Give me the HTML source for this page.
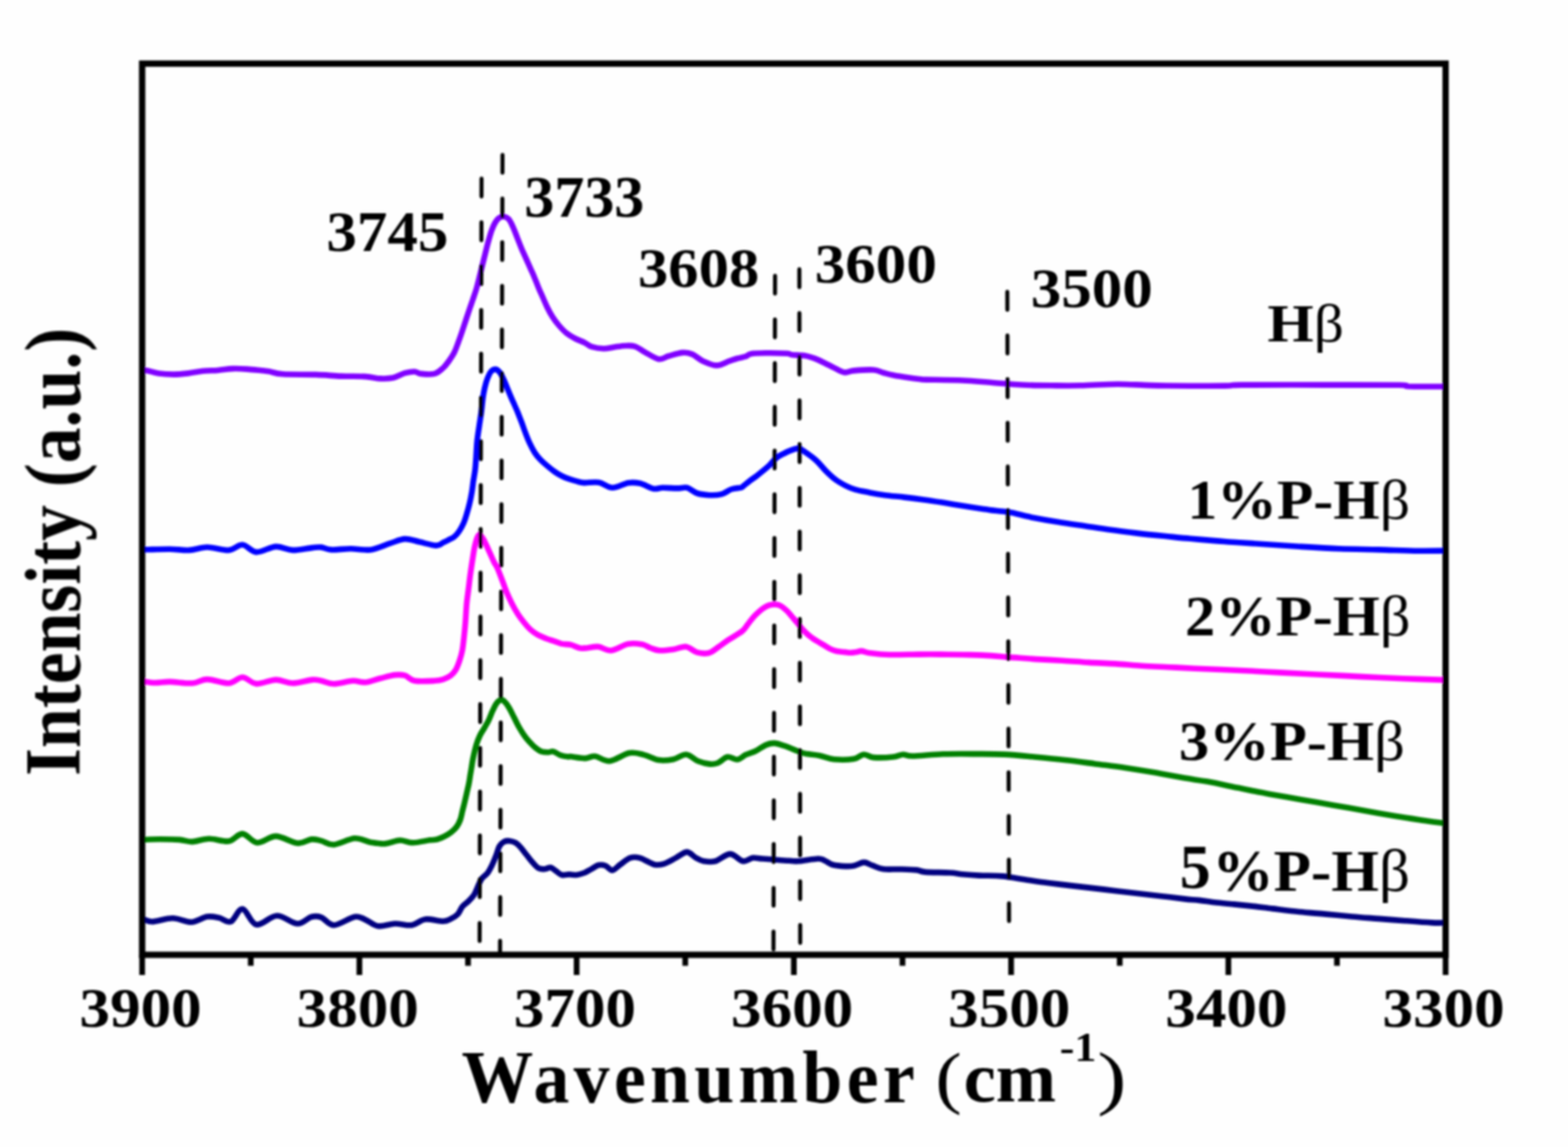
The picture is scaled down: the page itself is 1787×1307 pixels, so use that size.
<!DOCTYPE html>
<html><head><meta charset="utf-8"><title>IR spectra</title>
<style>html,body{margin:0;padding:0;background:#fff;overflow:hidden}svg{display:block}</style></head>
<body><svg width="1787" height="1307" viewBox="0 0 1787 1307">
<defs><filter id="soft" x="-2%" y="-2%" width="104%" height="104%"><feGaussianBlur stdDeviation="0.85"/></filter></defs>
<rect width="1787" height="1307" fill="#fefefe"/>
<g filter="url(#soft)">
<g id="curves" fill="none" stroke-linejoin="round" stroke-linecap="round"><path d="M162.5,422.2 C163.3,422.2 164.5,421.6 167.6,422.2 C170.7,422.8 176.0,424.9 181.0,425.6 C186.0,426.3 192.2,426.6 197.8,426.6 C203.4,426.6 209.0,426.0 214.6,425.4 C220.2,424.8 225.8,423.4 231.4,422.8 C237.0,422.2 242.5,422.4 248.1,422.0 C253.7,421.6 259.3,420.3 264.9,420.1 C270.5,419.9 276.1,420.2 281.7,420.6 C287.3,421.0 294.3,421.8 298.5,422.2 C302.7,422.6 302.9,422.6 306.9,423.3 C310.9,424.0 313.4,425.7 322.3,426.3 C331.2,426.9 348.9,426.5 360.0,426.9 C371.1,427.3 379.2,428.2 388.6,428.6 C398.0,429.0 409.2,428.6 416.6,429.1 C424.1,429.6 428.1,431.1 433.3,431.4 C438.5,431.6 443.2,431.6 447.9,430.6 C452.6,429.6 457.2,426.4 461.3,425.2 C465.4,424.0 469.4,423.4 472.5,423.5 C475.6,423.6 476.2,425.5 480.0,425.9 C483.8,426.3 490.9,427.0 495.1,425.9 C499.3,424.8 502.4,421.6 505.2,419.1 C508.0,416.6 509.9,413.6 512.0,410.7 C514.1,407.8 516.1,404.9 517.8,401.5 C519.5,398.1 520.7,394.4 522.1,390.6 C523.5,386.8 524.8,383.3 526.3,378.8 C527.8,374.3 529.8,368.2 531.3,363.6 C532.8,359.0 534.2,354.8 535.5,351.0 C536.8,347.2 537.7,344.9 539.0,341.0 C540.3,337.1 542.0,332.6 543.4,327.5 C544.8,322.4 546.2,316.3 547.6,310.7 C549.0,305.1 550.4,299.5 551.8,293.9 C553.2,288.3 554.6,282.3 556.0,277.1 C557.4,271.9 558.8,266.7 560.2,262.8 C561.6,258.9 563.0,255.9 564.4,253.5 C565.8,251.1 567.0,249.6 568.6,248.5 C570.2,247.4 571.9,246.6 573.7,246.8 C575.5,247.0 577.8,247.7 579.6,249.6 C581.4,251.5 582.9,254.9 584.5,258.4 C586.1,261.9 587.8,266.5 589.4,270.6 C591.0,274.7 592.7,279.0 594.3,282.9 C595.9,286.8 597.6,290.2 599.2,293.9 C600.8,297.6 602.5,301.2 604.1,304.9 C605.7,308.6 607.4,312.0 609.0,315.9 C610.6,319.8 612.3,324.3 613.9,328.2 C615.5,332.1 617.2,335.5 618.8,339.2 C620.4,342.9 621.9,346.5 623.7,350.2 C625.5,353.9 627.6,357.7 629.8,361.2 C632.0,364.7 634.5,367.9 637.1,371.0 C639.8,374.1 642.6,377.2 645.7,379.6 C648.8,382.1 652.0,383.9 655.5,385.7 C659.0,387.5 663.3,389.0 666.5,390.6 C669.7,392.2 670.9,394.1 674.5,395.2 C678.1,396.3 683.7,397.2 688.0,397.3 C692.3,397.4 696.3,396.1 700.4,395.5 C704.5,394.9 708.8,394.1 712.7,394.0 C716.6,393.9 720.2,393.6 723.9,394.8 C727.6,396.0 730.6,398.9 735.1,401.3 C739.6,403.7 746.2,408.4 750.7,409.2 C755.2,409.9 757.4,407.0 761.9,405.8 C766.4,404.6 773.1,402.3 777.6,401.9 C782.1,401.5 784.9,402.0 788.8,403.6 C792.7,405.2 796.4,409.3 801.1,411.4 C805.8,413.5 811.8,416.4 816.8,416.4 C821.8,416.4 827.4,412.7 831.3,411.4 C835.2,410.1 836.9,409.4 840.0,408.5 C843.1,407.6 847.4,407.1 850.0,406.2 C852.6,405.3 851.9,403.8 855.6,403.2 C859.3,402.6 865.5,402.4 872.4,402.3 C879.3,402.2 892.0,402.5 897.0,402.8 C902.0,403.1 899.2,403.9 902.6,404.3 C906.0,404.7 912.9,404.6 917.2,405.3 C921.5,406.0 924.6,407.0 928.3,408.4 C932.0,409.8 935.8,411.7 939.5,413.5 C943.2,415.3 947.0,417.3 950.7,419.1 C954.4,420.9 958.2,423.8 961.9,424.3 C965.6,424.9 967.5,422.9 973.1,422.4 C978.7,421.9 989.9,421.1 995.5,421.5 C1001.1,421.9 1003.0,423.7 1006.7,424.7 C1010.4,425.7 1013.2,426.6 1017.9,427.5 C1022.6,428.4 1029.4,429.5 1034.7,430.3 C1040.0,431.1 1046.6,431.9 1050.0,432.3 C1053.4,432.7 1047.4,432.4 1055.2,432.6 C1063.0,432.8 1084.5,432.9 1097.1,433.5 C1109.7,434.1 1119.5,435.2 1130.7,436.0 C1141.9,436.8 1153.1,437.9 1164.3,438.5 C1175.5,439.1 1186.7,439.2 1197.9,439.3 C1209.1,439.4 1218.8,439.6 1231.4,439.3 C1244.0,439.0 1261.1,437.8 1273.4,437.7 C1285.7,437.6 1295.6,438.6 1305.0,438.9 C1314.4,439.2 1314.8,439.4 1330.0,439.5 C1345.2,439.6 1381.8,439.8 1396.0,439.6 C1410.2,439.5 1396.0,438.8 1415.0,438.6 C1434.0,438.4 1480.0,438.6 1510.0,438.6 C1540.0,438.6 1579.2,438.5 1595.0,438.8 C1610.8,439.1 1596.3,439.9 1605.0,440.2 C1613.7,440.5 1640.0,440.4 1647.0,440.5" stroke="#8000ff" stroke-width="6.6"/><path d="M162.5,626.3 C163.2,626.3 161.5,626.4 166.7,626.3 C171.9,626.2 185.4,625.6 193.6,625.7 C201.8,625.8 208.9,627.3 216.0,626.9 C223.1,626.5 228.7,623.5 236.1,623.5 C243.5,623.5 254.0,627.4 260.7,626.9 C267.4,626.4 271.2,620.3 276.4,620.7 C281.6,621.1 285.8,628.7 292.1,629.1 C298.4,629.5 307.5,623.3 314.4,622.9 C321.3,622.5 326.6,626.7 333.5,626.9 C340.4,627.1 350.4,624.6 355.9,624.1 C361.3,623.6 362.6,623.2 366.2,623.6 C369.8,624.0 371.8,626.1 377.4,626.4 C383.0,626.7 392.3,625.3 399.8,625.3 C407.3,625.3 414.8,627.4 422.2,626.4 C429.6,625.4 438.0,621.2 444.5,619.2 C451.0,617.2 455.7,614.4 461.3,614.1 C466.9,613.8 472.1,616.2 478.1,617.5 C484.1,618.8 492.6,621.5 497.1,621.6 C501.6,621.7 502.7,619.3 505.0,618.3 C507.3,617.2 508.9,616.4 511.0,615.3 C513.1,614.2 515.5,613.5 517.6,611.8 C519.7,610.1 521.7,607.7 523.5,605.0 C525.3,602.3 527.1,599.0 528.5,595.8 C529.9,592.6 530.8,589.5 531.9,585.7 C533.0,581.9 534.3,577.3 535.3,573.1 C536.3,568.9 537.1,564.7 537.8,560.5 C538.5,556.3 538.9,552.0 539.5,547.8 C540.1,543.6 541.0,539.7 541.5,535.2 C542.0,530.7 542.2,526.5 542.6,521.0 C543.0,515.5 543.2,508.4 543.8,502.5 C544.4,496.6 545.3,491.3 546.1,485.7 C546.9,480.1 547.9,474.2 548.6,468.9 C549.3,463.6 549.7,458.2 550.3,453.7 C550.9,449.2 551.6,445.6 552.4,442.0 C553.2,438.4 554.1,435.0 555.3,431.9 C556.5,428.8 558.0,425.3 559.5,423.5 C561.0,421.7 562.9,420.8 564.6,420.9 C566.3,421.0 568.1,422.5 569.6,424.3 C571.1,426.1 572.4,428.9 573.8,431.9 C575.2,434.8 576.6,438.6 578.0,442.0 C579.4,445.4 580.8,448.9 582.2,452.1 C583.6,455.4 585.0,458.4 586.4,461.5 C587.8,464.6 589.0,467.2 590.3,470.5 C591.6,473.8 593.0,477.4 594.4,481.0 C595.8,484.6 596.9,488.2 598.4,492.1 C599.9,496.1 601.7,500.8 603.5,504.7 C605.3,508.6 607.2,512.4 609.3,515.6 C611.4,518.8 613.7,521.5 616.1,524.0 C618.5,526.5 620.9,528.5 623.6,530.7 C626.3,533.0 629.3,535.5 632.1,537.5 C634.9,539.5 637.7,541.1 640.5,542.5 C643.3,543.9 646.1,544.9 648.9,545.9 C651.7,546.9 654.5,547.7 657.3,548.4 C660.1,549.1 661.5,549.9 665.7,550.1 C669.9,550.3 677.0,548.8 682.4,549.7 C687.8,550.7 692.4,555.7 698.0,555.8 C703.6,555.9 710.8,551.0 716.0,550.2 C721.2,549.4 724.5,549.7 729.4,550.8 C734.2,551.9 740.8,556.1 745.1,556.9 C749.4,557.7 750.6,555.9 755.1,555.8 C759.6,555.7 767.2,556.4 771.9,556.4 C776.6,556.4 779.4,554.9 783.1,555.8 C786.8,556.7 790.0,560.6 794.3,562.0 C798.6,563.4 804.2,564.0 808.9,564.2 C813.6,564.4 818.2,564.2 822.3,563.1 C826.4,562.0 829.8,558.8 833.5,557.5 C837.2,556.2 842.4,556.2 844.7,555.6 C847.0,555.0 845.7,555.0 847.4,553.7 C849.1,552.4 852.4,549.6 854.9,547.7 C857.4,545.8 859.8,544.2 862.3,542.3 C864.8,540.4 867.3,538.4 869.8,536.3 C872.3,534.2 874.7,532.2 877.2,529.8 C879.7,527.4 882.2,524.0 884.7,521.9 C887.2,519.8 889.7,518.7 892.2,517.4 C894.7,516.1 896.7,515.0 899.6,513.9 C902.5,512.8 906.9,510.9 909.6,510.9 C912.3,510.9 912.6,511.7 916.0,514.0 C919.4,516.3 925.8,520.7 930.0,524.5 C934.2,528.3 937.5,532.9 941.2,536.6 C944.9,540.3 948.7,543.9 952.4,546.7 C956.1,549.5 959.9,551.5 963.6,553.4 C967.3,555.3 970.1,556.6 974.8,557.9 C979.5,559.2 986.0,560.3 991.6,561.4 C997.2,562.5 1001.8,563.3 1008.3,564.2 C1014.8,565.1 1023.2,565.7 1030.7,566.6 C1038.2,567.5 1045.6,568.4 1053.1,569.4 C1060.6,570.4 1068.0,571.6 1075.5,572.8 C1083.0,574.0 1090.4,575.3 1097.9,576.5 C1105.4,577.7 1115.0,579.1 1120.3,579.9 C1125.6,580.7 1125.1,580.8 1130.0,581.4 C1134.9,582.0 1142.0,582.3 1149.6,583.6 C1157.1,584.9 1166.0,587.5 1175.3,589.4 C1184.6,591.2 1195.4,593.1 1205.5,594.7 C1215.6,596.4 1225.6,597.8 1235.7,599.3 C1245.8,600.8 1255.9,602.4 1266.0,603.8 C1276.1,605.2 1286.1,606.4 1296.2,607.6 C1306.3,608.8 1316.3,609.8 1326.4,610.8 C1336.5,611.8 1346.5,612.9 1356.6,613.8 C1366.7,614.7 1377.4,615.6 1386.8,616.4 C1396.2,617.1 1403.3,617.7 1412.7,618.3 C1422.1,618.9 1431.6,619.5 1442.9,620.2 C1454.2,620.9 1466.8,621.9 1480.6,622.7 C1494.4,623.6 1510.9,624.7 1526.0,625.3 C1541.1,625.9 1556.2,626.0 1571.3,626.4 C1586.4,626.8 1604.0,627.5 1616.6,627.7 C1629.2,627.9 1641.9,627.5 1647.0,627.5" stroke="#0000ff" stroke-width="6.6"/><path d="M162.5,776.3 C164.9,776.6 171.6,777.9 176.8,778.0 C182.0,778.1 186.5,776.8 193.6,776.9 C200.7,777.0 212.2,779.0 219.3,778.5 C226.4,778.0 229.2,774.1 236.1,774.1 C243.0,774.1 254.0,778.9 260.7,778.5 C267.4,778.1 271.2,771.7 276.4,771.8 C281.6,771.9 285.8,778.6 292.1,779.1 C298.4,779.6 307.5,774.7 314.4,774.6 C321.3,774.5 326.6,778.5 333.5,778.5 C340.4,778.5 350.4,775.1 355.9,774.6 C361.3,774.1 362.1,775.0 366.2,775.8 C370.3,776.6 374.7,779.2 380.7,779.2 C386.7,779.2 396.0,776.1 402.0,775.8 C408.0,775.5 411.4,778.0 416.6,777.5 C421.8,777.0 427.7,774.4 433.3,773.0 C438.9,771.6 445.4,769.6 450.1,769.1 C454.8,768.6 457.6,768.6 461.3,769.7 C465.0,770.8 466.9,774.8 472.5,775.8 C478.1,776.8 489.5,776.1 494.9,775.8 C500.3,775.5 502.0,775.1 505.1,774.1 C508.2,773.1 511.1,771.7 513.5,769.9 C515.9,768.1 517.7,766.0 519.4,763.2 C521.1,760.4 522.3,756.9 523.6,753.1 C524.9,749.3 526.2,744.7 527.0,740.5 C527.8,736.3 528.1,732.0 528.6,727.8 C529.1,723.6 529.5,719.2 529.9,715.2 C530.3,711.2 530.5,708.1 530.8,703.5 C531.1,698.9 531.4,693.0 531.9,687.5 C532.4,682.0 533.3,676.3 534.0,670.7 C534.7,665.1 535.3,659.5 536.1,653.9 C536.9,648.3 537.8,642.0 538.6,637.1 C539.4,632.2 539.9,628.2 540.7,624.4 C541.5,620.6 542.4,616.8 543.3,614.3 C544.2,611.8 545.0,609.4 546.2,609.3 C547.4,609.2 549.0,611.4 550.4,613.5 C551.8,615.6 553.2,618.9 554.6,621.9 C556.0,624.9 557.4,628.1 558.8,631.2 C560.2,634.3 561.6,637.7 563.0,640.4 C564.4,643.1 565.6,644.4 567.0,647.5 C568.4,650.6 569.7,654.4 571.5,659.0 C573.3,663.6 575.6,670.5 577.6,675.3 C579.6,680.1 581.4,683.8 583.5,687.9 C585.6,692.0 588.0,696.2 590.2,699.7 C592.5,703.2 594.6,706.0 597.0,709.0 C599.4,712.0 601.9,715.0 604.5,717.4 C607.1,719.8 609.9,721.6 612.9,723.3 C615.9,725.0 619.0,726.2 622.2,727.5 C625.4,728.8 629.3,729.8 632.3,730.8 C635.3,731.8 636.9,732.9 640.0,733.6 C643.1,734.3 647.5,734.0 651.2,734.9 C654.9,735.8 657.4,738.5 662.4,738.8 C667.4,739.1 675.8,736.5 681.4,736.9 C687.0,737.3 690.2,741.7 696.0,741.2 C701.8,740.7 710.1,734.9 716.1,733.8 C722.1,732.6 727.7,733.6 731.8,734.3 C735.9,735.0 737.4,737.0 740.7,738.1 C744.1,739.2 747.2,740.9 751.9,741.2 C756.6,741.5 763.7,740.4 768.7,739.7 C773.7,739.0 777.8,736.3 782.1,736.9 C786.4,737.5 790.1,742.2 794.4,743.4 C798.7,744.6 803.8,745.1 807.9,744.0 C812.0,742.9 815.4,739.4 819.1,736.9 C822.8,734.4 825.8,732.1 830.3,729.1 C834.8,726.1 842.3,722.0 845.9,719.1 C849.5,716.2 850.0,714.2 852.0,711.7 C854.0,709.2 856.1,706.1 858.1,703.8 C860.1,701.4 862.2,699.5 864.3,697.6 C866.3,695.8 868.4,694.0 870.4,692.7 C872.4,691.4 874.5,690.4 876.5,689.7 C878.5,689.1 880.6,688.8 882.6,688.8 C884.6,688.8 886.5,688.8 888.7,689.9 C891.0,691.0 893.9,693.4 896.1,695.4 C898.4,697.4 900.2,699.8 902.2,702.1 C904.2,704.5 906.4,707.0 908.4,709.5 C910.4,712.0 912.5,714.5 914.5,716.8 C916.5,719.0 918.6,721.2 920.6,723.0 C922.6,724.8 924.7,726.4 926.7,727.8 C928.7,729.2 930.8,730.3 932.8,731.5 C934.8,732.7 937.0,734.0 939.0,735.2 C941.0,736.4 943.1,737.9 945.1,738.9 C947.1,739.9 949.2,740.7 951.2,741.3 C953.2,741.9 955.3,742.2 957.3,742.5 C959.3,742.8 961.3,742.9 963.4,743.1 C965.5,743.3 967.5,743.8 969.6,743.8 C971.7,743.8 973.7,743.4 975.7,743.1 C977.7,742.8 979.0,741.7 981.8,741.9 C984.6,742.1 987.3,743.6 992.6,744.3 C997.9,745.0 1004.5,745.8 1013.6,746.0 C1022.7,746.2 1037.4,745.7 1047.2,745.6 C1057.0,745.5 1064.0,745.5 1072.4,745.6 C1080.8,745.7 1089.6,745.8 1097.5,746.0 C1105.4,746.2 1111.2,746.1 1120.0,746.6 C1128.8,747.1 1140.1,748.1 1150.2,748.9 C1160.3,749.6 1170.3,750.5 1180.4,751.1 C1190.5,751.7 1200.5,752.1 1210.6,752.7 C1220.7,753.3 1230.7,754.3 1240.8,754.9 C1250.9,755.5 1261.0,755.8 1271.1,756.4 C1281.2,757.0 1291.2,758.1 1301.3,758.7 C1311.4,759.3 1321.4,759.7 1331.5,760.2 C1341.6,760.7 1347.1,761.0 1361.7,761.7 C1376.3,762.4 1403.1,763.4 1419.2,764.2 C1435.3,765.0 1444.0,765.6 1458.4,766.4 C1472.8,767.1 1489.7,767.9 1505.4,768.7 C1521.1,769.5 1536.7,770.3 1552.4,771.1 C1568.1,771.9 1583.6,772.7 1599.4,773.3 C1615.2,773.9 1639.1,774.6 1647.0,774.9" stroke="#ff00ff" stroke-width="6.6"/><path d="M162.5,956.9 C165.8,956.8 175.3,956.3 182.4,956.3 C189.5,956.3 198.7,956.4 204.8,956.9 C211.0,957.4 213.7,959.3 219.3,959.1 C224.9,958.9 231.4,955.8 238.3,955.7 C245.2,955.6 254.3,959.4 260.7,958.5 C267.0,957.6 271.0,949.8 276.4,950.1 C281.8,950.4 286.9,959.7 293.2,960.2 C299.5,960.7 306.8,952.8 314.4,952.9 C322.0,953.0 332.3,960.2 339.1,960.8 C345.9,961.4 350.5,956.8 355.0,956.4 C359.5,956.0 361.9,957.1 366.2,958.1 C370.5,959.1 374.4,963.0 380.7,962.5 C387.0,962.0 397.3,955.8 404.2,955.3 C411.1,954.8 416.4,958.7 422.2,959.7 C428.0,960.7 433.3,961.8 438.9,961.4 C444.5,961.0 450.5,957.7 455.7,957.5 C460.9,957.3 464.6,960.3 470.3,960.3 C476.0,960.3 485.4,957.9 490.0,957.3 C494.6,956.7 495.3,957.2 498.0,956.5 C500.7,955.8 503.4,954.6 506.1,953.2 C508.8,951.9 511.7,950.3 514.1,948.4 C516.5,946.5 518.8,944.4 520.5,942.0 C522.2,939.6 523.5,937.0 524.6,934.0 C525.7,931.0 526.2,927.5 527.0,924.3 C527.8,921.1 528.6,918.1 529.4,914.7 C530.2,911.4 531.0,907.7 531.8,904.2 C532.6,900.7 533.5,897.1 534.2,893.8 C534.9,890.4 535.3,887.3 535.8,884.1 C536.3,880.9 536.9,877.7 537.4,874.5 C537.9,871.3 538.1,869.1 539.0,864.8 C539.9,860.5 541.5,853.4 542.8,848.9 C544.1,844.4 545.5,841.2 547.0,838.0 C548.5,834.8 550.3,832.6 552.0,829.6 C553.7,826.6 555.6,823.5 557.1,820.3 C558.6,817.1 559.8,813.4 561.3,810.2 C562.8,807.0 564.3,803.4 566.0,801.3 C567.7,799.1 569.8,797.4 571.5,797.3 C573.2,797.2 574.5,799.0 576.0,800.6 C577.5,802.2 579.0,804.5 580.6,807.2 C582.2,809.9 583.9,813.7 585.6,817.0 C587.3,820.3 588.8,823.8 590.7,827.1 C592.6,830.5 594.7,834.0 596.8,837.1 C598.9,840.2 601.2,843.0 603.5,845.5 C605.8,848.0 608.0,850.4 610.3,852.2 C612.5,854.0 614.6,855.5 617.0,856.4 C619.4,857.2 622.4,857.3 624.6,857.3 C626.9,857.3 628.1,855.8 630.5,856.4 C632.9,857.0 636.1,859.6 638.9,860.6 C641.7,861.6 645.4,862.1 647.3,862.3 C649.1,862.5 646.8,861.7 650.0,862.0 C653.2,862.3 662.1,864.1 666.8,864.1 C671.5,864.1 673.3,861.3 678.0,861.8 C682.7,862.3 688.3,867.8 694.8,867.2 C701.3,866.6 710.7,859.3 717.2,858.1 C723.7,856.9 728.3,858.8 733.9,860.1 C739.5,861.4 745.1,865.2 750.7,866.1 C756.3,867.0 762.3,866.2 767.5,865.2 C772.7,864.2 777.4,859.5 782.1,859.8 C786.8,860.1 791.0,865.4 795.5,867.2 C800.0,869.0 805.2,870.2 808.9,870.6 C812.6,871.0 814.5,870.8 817.9,869.5 C821.3,868.2 825.4,863.3 829.1,862.6 C832.8,861.9 836.8,865.9 840.3,865.5 C843.8,865.1 846.5,861.7 850.0,860.1 C853.5,858.5 857.5,857.6 861.2,855.8 C864.9,854.0 868.9,850.6 872.4,849.1 C875.9,847.6 878.8,846.7 882.5,846.9 C886.2,847.1 890.9,848.9 894.8,850.2 C898.7,851.5 902.3,853.3 906.0,854.7 C909.7,856.1 912.6,857.6 917.2,858.6 C921.9,859.6 928.3,859.8 933.9,860.9 C939.5,862.0 944.2,864.6 950.7,865.3 C957.2,865.9 967.5,865.7 973.1,864.8 C978.7,863.9 980.6,860.0 984.3,859.7 C988.0,859.4 989.9,862.6 995.5,863.1 C1001.1,863.6 1012.3,863.1 1017.9,862.5 C1023.5,861.9 1025.4,859.9 1029.1,859.7 C1032.8,859.5 1032.4,861.6 1040.0,861.5 C1047.6,861.4 1063.1,859.7 1074.7,859.3 C1086.3,858.9 1097.8,859.0 1109.4,859.1 C1121.0,859.2 1132.5,859.0 1144.1,859.6 C1155.7,860.2 1167.2,861.4 1178.8,862.5 C1190.4,863.6 1201.9,864.7 1213.5,866.0 C1225.1,867.3 1236.7,868.9 1248.2,870.4 C1259.8,871.9 1271.2,873.2 1282.8,874.9 C1294.3,876.6 1306.3,878.6 1317.5,880.6 C1328.7,882.6 1340.3,884.9 1350.0,886.6 C1359.7,888.3 1365.5,888.7 1375.8,890.6 C1386.1,892.5 1399.7,895.4 1411.6,897.8 C1423.5,900.2 1435.5,902.7 1447.4,904.9 C1459.4,907.1 1471.3,909.1 1483.3,911.2 C1495.2,913.3 1507.2,915.4 1519.1,917.5 C1531.0,919.6 1543.0,921.6 1554.9,923.7 C1566.8,925.8 1578.8,928.0 1590.7,930.0 C1602.6,932.0 1617.1,934.0 1626.5,935.4 C1635.9,936.8 1643.6,937.7 1647.0,938.2" stroke="#008000" stroke-width="6.6"/><path d="M162.5,1046.9 C164.3,1047.5 167.7,1050.3 173.4,1050.2 C179.1,1050.1 189.4,1046.2 196.9,1046.3 C204.4,1046.4 211.7,1051.1 218.2,1050.8 C224.7,1050.5 230.9,1045.4 236.1,1044.6 C241.3,1043.8 245.0,1044.8 249.5,1045.7 C254.0,1046.6 258.5,1051.9 263.0,1050.2 C267.5,1048.5 271.5,1035.1 276.4,1035.7 C281.2,1036.3 285.6,1052.3 292.1,1053.6 C298.6,1054.9 307.8,1043.7 315.6,1043.5 C323.4,1043.3 332.5,1052.3 339.1,1052.5 C345.7,1052.7 350.5,1045.9 355.0,1044.7 C359.5,1043.5 361.9,1043.7 366.2,1045.3 C370.5,1046.9 374.4,1054.3 380.7,1054.2 C387.0,1054.1 398.2,1045.7 404.2,1044.7 C410.2,1043.7 412.1,1046.3 416.6,1048.1 C421.1,1049.9 425.5,1054.6 431.1,1055.3 C436.7,1056.0 443.8,1052.7 450.1,1052.5 C456.5,1052.3 463.4,1055.0 469.2,1054.2 C475.0,1053.4 478.8,1048.2 484.8,1047.5 C490.8,1046.8 500.2,1049.8 505.0,1049.7 C509.8,1049.6 511.0,1048.3 513.8,1047.0 C516.6,1045.7 519.5,1044.0 521.7,1041.7 C523.9,1039.4 525.0,1035.5 527.0,1033.0 C529.0,1030.5 531.8,1029.0 534.0,1026.8 C536.2,1024.6 538.4,1022.6 540.2,1019.8 C542.0,1017.0 543.1,1013.2 544.6,1010.1 C546.1,1007.0 547.1,1003.9 549.0,1001.3 C550.9,998.7 554.0,997.1 556.0,994.3 C558.0,991.5 559.7,988.0 561.3,984.6 C562.9,981.2 564.4,977.4 565.7,974.0 C567.0,970.6 567.7,966.8 569.2,964.3 C570.7,961.8 572.6,960.1 574.5,959.1 C576.4,958.1 578.4,958.0 580.6,958.2 C582.8,958.4 585.5,959.1 587.7,960.4 C589.9,961.7 591.8,963.8 593.8,966.1 C595.8,968.4 597.8,971.3 600.0,974.0 C602.2,976.7 604.5,980.0 606.8,982.5 C609.0,985.0 611.2,987.9 613.5,989.2 C615.8,990.5 618.5,990.4 620.8,990.3 C623.1,990.2 625.4,988.2 627.5,988.6 C629.6,989.0 631.5,991.1 633.6,992.5 C635.8,993.9 637.9,996.4 640.4,997.0 C642.9,997.6 646.0,996.4 648.8,996.4 C651.6,996.4 654.4,997.3 657.2,997.0 C660.0,996.7 662.7,995.9 665.5,994.8 C668.3,993.7 671.1,991.8 673.9,990.3 C676.7,988.8 679.6,986.4 682.3,985.8 C685.0,985.2 687.4,985.5 690.0,986.5 C692.6,987.5 695.0,991.9 697.8,991.7 C700.6,991.5 703.4,987.6 706.8,985.2 C710.2,982.9 714.3,978.9 718.0,977.6 C721.7,976.3 724.5,976.3 729.2,977.6 C733.9,978.9 741.3,984.1 746.0,985.2 C750.7,986.3 753.1,985.4 757.2,984.1 C761.3,982.8 766.3,979.6 770.6,977.4 C774.9,975.2 779.2,970.9 782.9,970.9 C786.6,970.9 789.8,975.7 793.0,977.4 C796.2,979.1 798.2,980.6 801.9,981.3 C805.6,981.9 810.3,982.7 815.3,981.3 C820.3,979.9 826.9,973.1 832.1,973.1 C837.3,973.1 842.4,980.5 846.7,981.3 C851.0,982.0 854.2,978.1 857.9,977.6 C861.6,977.1 863.8,978.1 869.1,978.5 C874.5,978.9 885.0,979.8 890.0,980.2 C895.0,980.6 895.8,980.6 899.1,980.8 C902.4,981.0 904.5,981.7 910.0,981.3 C915.5,980.9 927.4,978.6 932.4,978.5 C937.4,978.4 937.1,979.5 940.0,980.7 C942.9,981.9 945.5,984.4 949.5,985.5 C953.5,986.6 959.8,986.9 963.8,987.1 C967.8,987.3 969.8,987.2 973.3,986.5 C976.8,985.8 981.2,982.6 984.7,982.6 C988.2,982.6 990.6,984.9 994.2,986.2 C997.9,987.5 1001.4,989.6 1006.6,990.3 C1011.8,991.0 1019.2,990.3 1025.6,990.5 C1031.9,990.7 1039.9,990.9 1044.7,991.4 C1049.5,991.9 1047.9,993.1 1054.2,993.6 C1060.5,994.1 1075.6,994.1 1082.7,994.5 C1089.8,994.9 1091.5,995.7 1097.0,996.2 C1102.5,996.7 1108.5,997.2 1116.0,997.6 C1123.5,998.0 1133.3,997.6 1142.0,998.4 C1150.7,999.2 1159.3,1000.9 1168.0,1002.2 C1176.7,1003.5 1185.4,1004.9 1194.1,1006.0 C1202.8,1007.1 1211.3,1008.1 1220.0,1009.1 C1228.7,1010.1 1237.4,1011.1 1246.1,1012.1 C1254.8,1013.1 1263.3,1014.2 1272.0,1015.2 C1280.7,1016.2 1289.5,1017.2 1298.2,1018.2 C1306.9,1019.2 1315.3,1020.2 1324.0,1021.2 C1332.7,1022.2 1343.1,1023.6 1350.2,1024.4 C1357.3,1025.2 1360.8,1025.2 1366.8,1025.9 C1372.8,1026.6 1379.9,1027.8 1386.4,1028.5 C1392.9,1029.2 1399.5,1029.8 1406.0,1030.4 C1412.5,1031.1 1419.0,1031.7 1425.5,1032.4 C1432.0,1033.1 1440.9,1034.2 1445.1,1034.7 C1449.2,1035.2 1444.5,1034.7 1450.4,1035.4 C1456.3,1036.1 1470.5,1038.0 1480.6,1039.0 C1490.7,1040.0 1500.7,1040.7 1510.8,1041.6 C1520.9,1042.5 1531.0,1043.6 1541.1,1044.5 C1551.2,1045.4 1561.2,1046.1 1571.3,1046.9 C1581.4,1047.7 1591.4,1048.5 1601.5,1049.2 C1611.6,1050.0 1624.1,1051.0 1631.7,1051.4 C1639.3,1051.8 1644.5,1051.5 1647.0,1051.5" stroke="#000080" stroke-width="6.6"/></g>
<g id="dashes"><line x1="548.8" y1="203.50" x2="546.6" y2="1085" stroke="#000" stroke-width="4.6" stroke-linecap="round" stroke-dasharray="20.35 29.55"/><line x1="572.7" y1="176.50" x2="569.9" y2="1085" stroke="#000" stroke-width="4.6" stroke-linecap="round" stroke-dasharray="20.27 29.48"/><line x1="883.3" y1="314.20" x2="881.5" y2="1085" stroke="#000" stroke-width="4.6" stroke-linecap="round" stroke-dasharray="20.31 29.51"/><line x1="911.0" y1="306.90" x2="912.0" y2="1085" stroke="#000" stroke-width="4.6" stroke-linecap="round" stroke-dasharray="20.30 29.51"/><line x1="1148.0" y1="332.60" x2="1150.0" y2="1055" stroke="#000" stroke-width="4.6" stroke-linecap="round" stroke-dasharray="20.28 29.48"/></g>
<g id="frame"><rect x="162.0" y="72.5" width="1485.5" height="1015.5" fill="none" stroke="#000" stroke-width="7.2"/><line x1="162.00" y1="1088.0" x2="162.00" y2="1111.0" stroke="#000" stroke-width="6.5"/><line x1="285.79" y1="1088.0" x2="285.79" y2="1100.5" stroke="#000" stroke-width="6.5"/><line x1="409.58" y1="1088.0" x2="409.58" y2="1111.0" stroke="#000" stroke-width="6.5"/><line x1="533.38" y1="1088.0" x2="533.38" y2="1100.5" stroke="#000" stroke-width="6.5"/><line x1="657.17" y1="1088.0" x2="657.17" y2="1111.0" stroke="#000" stroke-width="6.5"/><line x1="780.96" y1="1088.0" x2="780.96" y2="1100.5" stroke="#000" stroke-width="6.5"/><line x1="904.75" y1="1088.0" x2="904.75" y2="1111.0" stroke="#000" stroke-width="6.5"/><line x1="1028.54" y1="1088.0" x2="1028.54" y2="1100.5" stroke="#000" stroke-width="6.5"/><line x1="1152.33" y1="1088.0" x2="1152.33" y2="1111.0" stroke="#000" stroke-width="6.5"/><line x1="1276.12" y1="1088.0" x2="1276.12" y2="1100.5" stroke="#000" stroke-width="6.5"/><line x1="1399.92" y1="1088.0" x2="1399.92" y2="1111.0" stroke="#000" stroke-width="6.5"/><line x1="1523.71" y1="1088.0" x2="1523.71" y2="1100.5" stroke="#000" stroke-width="6.5"/><line x1="1647.50" y1="1088.0" x2="1647.50" y2="1111.0" stroke="#000" stroke-width="6.5"/></g>
<g id="text" fill="#000"><text transform="matrix(0.6958,0,0,0.6299,90.62,1169.74)" font-weight="bold" font-size="100" font-family="Liberation Serif, Times New Roman, serif">3900</text><text transform="matrix(0.6958,0,0,0.6299,338.12,1169.74)" font-weight="bold" font-size="100" font-family="Liberation Serif, Times New Roman, serif">3800</text><text transform="matrix(0.6958,0,0,0.6299,585.62,1169.74)" font-weight="bold" font-size="100" font-family="Liberation Serif, Times New Roman, serif">3700</text><text transform="matrix(0.6958,0,0,0.6299,833.12,1169.74)" font-weight="bold" font-size="100" font-family="Liberation Serif, Times New Roman, serif">3600</text><text transform="matrix(0.6958,0,0,0.6299,1080.62,1169.74)" font-weight="bold" font-size="100" font-family="Liberation Serif, Times New Roman, serif">3500</text><text transform="matrix(0.6958,0,0,0.6299,1328.12,1169.74)" font-weight="bold" font-size="100" font-family="Liberation Serif, Times New Roman, serif">3400</text><text transform="matrix(0.6958,0,0,0.6299,1575.62,1169.74)" font-weight="bold" font-size="100" font-family="Liberation Serif, Times New Roman, serif">3300</text><text transform="matrix(0.6948,0,0,0.6478,372.02,285.50)" font-weight="bold" font-size="100" font-family="Liberation Serif, Times New Roman, serif">3745</text><text transform="matrix(0.6839,0,0,0.6672,597.56,247.37)" font-weight="bold" font-size="100" font-family="Liberation Serif, Times New Roman, serif">3733</text><text transform="matrix(0.6912,0,0,0.6343,727.04,326.93)" font-weight="bold" font-size="100" font-family="Liberation Serif, Times New Roman, serif">3608</text><text transform="matrix(0.6969,0,0,0.6343,928.41,322.43)" font-weight="bold" font-size="100" font-family="Liberation Serif, Times New Roman, serif">3600</text><text transform="matrix(0.6948,0,0,0.6343,1174.72,350.13)" font-weight="bold" font-size="100" font-family="Liberation Serif, Times New Roman, serif">3500</text><text transform="matrix(0.6770,0,0,0.6169,1444.55,388.50)" font-weight="bold" font-size="100" font-family="Liberation Serif, Times New Roman, serif">H<tspan font-weight="normal">β</tspan></text><text transform="matrix(0.6803,0,0,0.6354,1353.26,590.50)" font-weight="bold" font-size="100" font-family="Liberation Serif, Times New Roman, serif">1%P-H<tspan font-weight="normal">β</tspan></text><text transform="matrix(0.6890,0,0,0.6508,1350.54,724.10)" font-weight="bold" font-size="100" font-family="Liberation Serif, Times New Roman, serif">2%P-H<tspan font-weight="normal">β</tspan></text><text transform="matrix(0.6910,0,0,0.6262,1343.54,865.90)" font-weight="bold" font-size="100" font-family="Liberation Serif, Times New Roman, serif">3%P-H<tspan font-weight="normal">β</tspan></text><text transform="matrix(0.6977,0,0,0.6738,1381.72,1015.20)" font-weight="bold" font-size="100" font-family="Liberation Serif, Times New Roman, serif">%P-H<tspan font-weight="normal">β</tspan></text><text transform="matrix(0.7048,0,0,0.7197,1344.48,1011.88)" font-weight="bold" font-size="100" font-family="Liberation Serif, Times New Roman, serif">5</text><text transform="matrix(0.8178,0,0,0.8385,525.88,1255.50)" font-weight="bold" font-size="100" letter-spacing="6" font-family="Liberation Serif, Times New Roman, serif">Wavenumber</text><text transform="matrix(0.9038,0,0,0.7811,1066.08,1254.20)" font-weight="normal" font-size="100" font-family="Liberation Serif, Times New Roman, serif">(</text><text transform="matrix(0.8260,0,0,0.8042,1098.22,1254.80)" font-weight="bold" font-size="100" font-family="Liberation Serif, Times New Roman, serif">cm</text><text transform="matrix(0.5000,0,0,0.4697,1207.80,1209.40)" font-weight="bold" font-size="100" font-family="Liberation Serif, Times New Roman, serif">-1</text><text transform="matrix(1.0000,0,0,0.8022,1250.50,1254.65)" font-weight="normal" font-size="100" font-family="Liberation Serif, Times New Roman, serif">)</text><text transform="matrix(0,-0.8170,0.9000,0,91.10,884.15)" font-weight="bold" font-size="100" font-family="Liberation Serif, Times New Roman, serif">Intensity (a.u.)</text></g>
</g>
</svg></body></html>
